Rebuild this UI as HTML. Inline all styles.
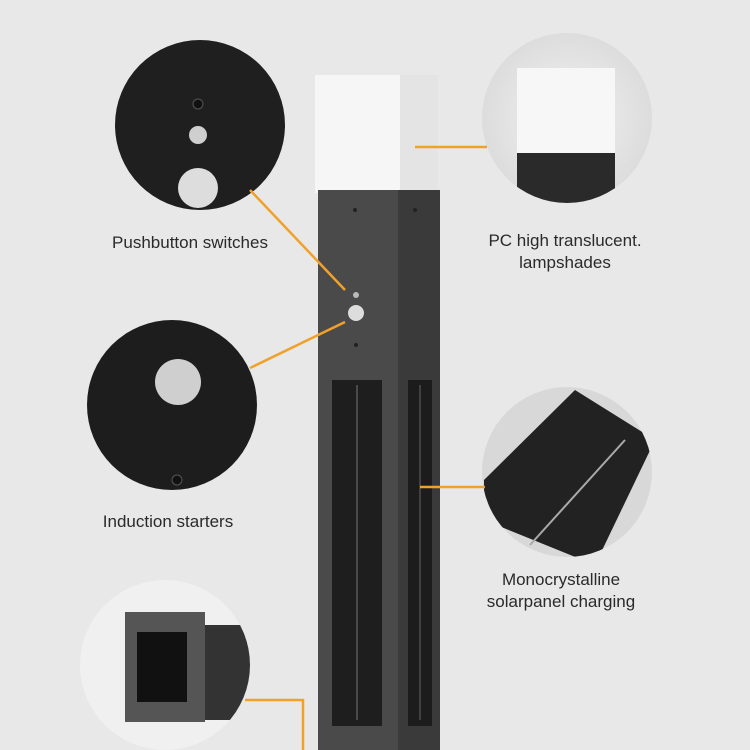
<!DOCTYPE html>
<html><head><meta charset="utf-8"><style>
html,body{margin:0;padding:0}
body{width:750px;height:750px;background:#e8e8e8;position:relative;overflow:hidden;font-family:"Liberation Sans",sans-serif}
.t{position:absolute;font-size:17px;color:#2a2a2a;text-align:center;width:260px;line-height:22px}
</style></head><body>
<svg width="750" height="750" style="position:absolute;left:0;top:0">
<defs>
<radialGradient id="lg" cx="0.5" cy="0.5" r="0.6"><stop offset="0" stop-color="#f2f2f2"/><stop offset="1" stop-color="#d8d8d8"/></radialGradient>
<clipPath id="c2"><circle cx="567" cy="118" r="85"/></clipPath>
<clipPath id="c4"><circle cx="567" cy="472" r="85"/></clipPath>
<clipPath id="c5"><circle cx="165" cy="665" r="85"/></clipPath>
</defs>
<rect x="315" y="75" width="123" height="118" fill="#f6f6f6"/>
<rect x="400" y="75" width="38" height="118" fill="#e4e4e4"/>
<rect x="318" y="190" width="82" height="560" fill="#4a4a4a"/>
<rect x="398" y="190" width="42" height="560" fill="#3a3a3a"/>
<circle cx="355" cy="210" r="2" fill="#222"/>
<circle cx="415" cy="210" r="2" fill="#222"/>
<rect x="332" y="380" width="50" height="346" fill="#1e1e1e"/>
<line x1="357" y1="385" x2="357" y2="720" stroke="#777" stroke-width="1"/>
<rect x="408" y="380" width="24" height="346" fill="#1c1c1c"/>
<line x1="420" y1="385" x2="420" y2="720" stroke="#666" stroke-width="1"/>
<circle cx="356" cy="313" r="8" fill="#ddd"/>
<circle cx="356" cy="295" r="3" fill="#bbb"/>
<circle cx="356" cy="345" r="2" fill="#222"/>
<circle cx="200" cy="125" r="85" fill="#1f1f1f"/>
<circle cx="198" cy="135" r="9" fill="#cfcfcf"/>
<circle cx="198" cy="188" r="20" fill="#ddd"/>
<circle cx="198" cy="104" r="5" fill="#111" stroke="#555"/>
<circle cx="567" cy="118" r="85" fill="url(#lg)"/>
<g clip-path="url(#c2)">
<rect x="517" y="68" width="98" height="85" fill="#f7f7f7"/>
<rect x="517" y="153" width="98" height="60" fill="#2a2a2a"/>
</g>
<circle cx="172" cy="405" r="85" fill="#1d1d1d"/>
<circle cx="178" cy="382" r="23" fill="#cfcfcf"/>
<circle cx="177" cy="480" r="5" fill="#111" stroke="#555"/>
<circle cx="567" cy="472" r="85" fill="#d8d8d8"/>
<g clip-path="url(#c4)">
<path d="M484 480 L575 390 L655 440 L595 565 L484 520Z" fill="#222"/>
<line x1="530" y1="545" x2="625" y2="440" stroke="#aaa" stroke-width="2"/>
</g>
<circle cx="165" cy="665" r="85" fill="#f0f0f0"/>
<g clip-path="url(#c5)">
<rect x="125" y="612" width="80" height="110" fill="#555"/>
<rect x="137" y="632" width="50" height="70" fill="#111"/>
<rect x="205" y="625" width="50" height="95" fill="#333"/>
</g>
<g stroke="#f0a12a" stroke-width="2.5" fill="none">
<line x1="250" y1="190" x2="345" y2="290"/>
<line x1="415" y1="147" x2="487" y2="147"/>
<line x1="250" y1="368" x2="345" y2="322"/>
<line x1="420" y1="487" x2="485" y2="487"/>
<polyline points="245,700 303,700 303,750"/>
</g>
</svg>
<div class="t" style="left:60px;top:232px">Pushbutton switches</div>
<div class="t" style="left:435px;top:230px">PC high translucent.<br>lampshades</div>
<div class="t" style="left:38px;top:511px">Induction starters</div>
<div class="t" style="left:431px;top:569px">Monocrystalline<br>solarpanel charging</div>
</body></html>
